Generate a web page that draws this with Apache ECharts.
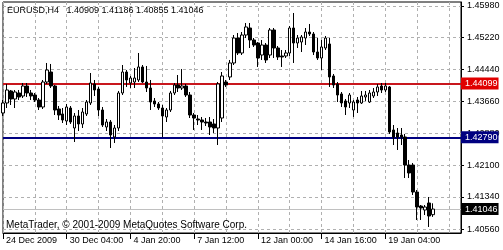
<!DOCTYPE html>
<html><head><meta charset="utf-8">
<script src="https://cdn.jsdelivr.net/npm/echarts@6/dist/echarts.min.js"></script>
<style>html,body{margin:0;padding:0;background:#fff}#c{width:503px;height:250px}</style>
</head><body><div id="c"></div>
<script>
const symbolTitle = 'EURUSD,H4';
const lastQuote = ['1.40909', '1.41186', '1.40855', '1.41046'];
const copyrightText = 'MetaTrader, \u00a9 2001-2009 MetaQuotes Software Corp.';
const xTickLabels = ['24 Dec 2009', '30 Dec 04:00', '4 Jan 20:00', '7 Jan 12:00', '12 Jan 00:00', '14 Jan 16:00', '19 Jan 04:00'];
const yTickValues = [1.40560, 1.41340, 1.42100, 1.42880, 1.43660, 1.44440, 1.45220, 1.45980];
const resistanceLevel = 1.44099;
const supportLevel = 1.42790;
const bidLevel = 1.41046;

const openP = [1.43380,1.43623,1.43915,1.43720,1.43866,1.43793,1.44036,1.43866,1.43817,1.43696,
1.43526,1.44133,1.44376,1.44036,1.43477,1.43356,1.43186,1.43501,1.43015,1.43307,
1.43113,1.43356,1.43623,1.44085,1.43963,1.43453,1.43040,1.43161,1.42797,1.43015,
1.43866,1.44376,1.44109,1.44133,1.44182,1.44498,1.44133,1.43987,1.43672,1.43599,
1.43501,1.43283,1.43453,1.43866,1.44060,1.43987,1.44036,1.43817,1.43331,1.43234,
1.43210,1.43161,1.43161,1.43113,1.43015,1.43258,1.44133,1.44255,1.44595,1.45202,
1.44838,1.45275,1.45445,1.45154,1.45081,1.44789,1.45032,1.44789,1.45397,1.44959,
1.44765,1.44765,1.44838,1.45445,1.45081,1.45105,1.45202,1.45348,1.45300,1.44862,
1.44716,1.44959,1.45057,1.44279,1.44085,1.43842,1.43672,1.43623,1.43453,1.43696,
1.43623,1.43769,1.43647,1.43793,1.43890,1.44036,1.43939,1.44012,1.42967,1.42894,
1.42845,1.42797,1.42116,1.42116,1.41460,1.41120,1.41023,1.41193,1.40909];
const closeP = [1.43623,1.43939,1.43720,1.43890,1.43769,1.44036,1.43866,1.43793,1.43696,1.43526,
1.44133,1.44425,1.44036,1.43453,1.43331,1.43210,1.43526,1.43161,1.43307,1.43113,
1.43404,1.43647,1.44109,1.43939,1.43453,1.43088,1.43161,1.42845,1.43015,1.43866,
1.44376,1.44182,1.44230,1.44230,1.44498,1.44133,1.43987,1.43647,1.43599,1.43501,
1.43307,1.43453,1.43866,1.44060,1.43987,1.44036,1.43817,1.43331,1.43258,1.43210,
1.43161,1.43137,1.43040,1.43015,1.44085,1.44279,1.44060,1.44595,1.45202,1.44838,
1.45275,1.45470,1.45154,1.45032,1.44716,1.45032,1.44668,1.45397,1.44959,1.44741,
1.44741,1.44838,1.45445,1.45081,1.45202,1.45227,1.45348,1.45300,1.44862,1.44716,
1.44984,1.45202,1.44255,1.44060,1.43817,1.43623,1.43526,1.43817,1.43647,1.43623,
1.43793,1.43817,1.43866,1.43890,1.44012,1.43939,1.44036,1.42918,1.42797,1.42797,
1.42797,1.42116,1.41922,1.41460,1.41096,1.41071,1.41096,1.40877,1.41046];
const lowP = [1.43307,1.43501,1.43574,1.43501,1.43696,1.43744,1.43769,1.43696,1.43647,1.43453,
1.43477,1.44085,1.43987,1.43331,1.43210,1.43137,1.43088,1.43113,1.42675,1.42943,
1.43015,1.43307,1.43574,1.43793,1.43307,1.43040,1.42943,1.42529,1.42651,1.42943,
1.43817,1.44012,1.43987,1.43987,1.44133,1.44109,1.43890,1.43453,1.43526,1.43453,
1.42797,1.43161,1.43404,1.43817,1.43890,1.43939,1.43769,1.43258,1.42967,1.43088,
1.42967,1.43064,1.42845,1.42894,1.42602,1.43161,1.44012,1.44182,1.44546,1.44789,
1.44789,1.45202,1.44959,1.44984,1.44498,1.44668,1.44595,1.44716,1.44716,1.44668,
1.44498,1.44716,1.44765,1.44595,1.44959,1.44862,1.45032,1.45251,1.44789,1.44668,
1.44425,1.44911,1.44012,1.43987,1.43647,1.43526,1.43331,1.43501,1.43283,1.43380,
1.43599,1.43672,1.43623,1.43744,1.43793,1.43866,1.43890,1.42870,1.42602,1.42481,
1.42602,1.41800,1.41800,1.41387,1.40780,1.40780,1.40901,1.40610,1.40855];
const highP = [1.43696,1.44085,1.43939,1.43939,1.43939,1.44109,1.44109,1.43939,1.43866,1.43744,
1.44182,1.44595,1.44571,1.44060,1.43550,1.43501,1.43599,1.43550,1.43380,1.43453,
1.43501,1.43696,1.44352,1.44182,1.44012,1.43526,1.43234,1.43210,1.43088,1.43915,
1.44546,1.44425,1.44279,1.44473,1.44838,1.44546,1.44522,1.44182,1.43744,1.43647,
1.43574,1.43501,1.43915,1.44109,1.44303,1.44449,1.44085,1.43890,1.43380,1.43331,
1.43283,1.43258,1.43283,1.43234,1.44133,1.44376,1.44182,1.44668,1.45275,1.45324,
1.45348,1.45567,1.45567,1.45202,1.45105,1.45154,1.45081,1.45445,1.45445,1.45008,
1.44911,1.44911,1.45494,1.45810,1.45275,1.45275,1.45445,1.45543,1.45348,1.45202,
1.45154,1.45251,1.45202,1.44328,1.44133,1.43890,1.43720,1.43866,1.43696,1.43769,
1.43915,1.43915,1.43939,1.43987,1.44085,1.44109,1.44109,1.44036,1.43088,1.43015,
1.43015,1.42870,1.42238,1.42165,1.41509,1.41144,1.41144,1.41339,1.41186];

const emptySlots = 7;
const categories = [];
for (let i = 0; i < openP.length + emptySlots; i++) categories.push(String(i));
const candleData = categories.map((c, i) => i < openP.length ? [openP[i], closeP[i], lowP[i], highP[i]] : '-');

const FONT = '"Liberation Sans", Arial, sans-serif';
const chart = echarts.init(document.getElementById('c'), null, {renderer: 'canvas'});
const tag = (bg, level) => ({
  show: true, position: 'end', distance: 0,
  formatter: () => level.toFixed(5),
  backgroundColor: bg, color: '#fff', fontFamily: FONT, fontSize: 9,
  padding: [2, 1, 1, 4], align: 'left', verticalAlign: 'middle'
});
chart.setOption({
  animation: false,
  backgroundColor: '#fff',
  grid: {left: 3, right: 42, top: 2, bottom: 17, show: true, borderColor: '#000', borderWidth: 1, backgroundColor: '#fff'},
  xAxis: {
    type: 'category', data: categories, boundaryGap: false,
    axisLine: {show: true, lineStyle: {color: '#000'}},
    axisTick: {show: true, interval: (i) => i % 16 === 0, length: 6, lineStyle: {color: '#000'}},
    axisLabel: {
      interval: (i) => i % 16 === 0,
      formatter: (v, i) => xTickLabels[i / 16] || '',
      align: 'left', color: '#000', fontFamily: FONT, fontSize: 9, margin: 3,
      padding: [0, 0, 0, 3], showMinLabel: true, showMaxLabel: false
    },
    splitLine: {show: true, interval: (i) => i % 8 === 0, lineStyle: {color: '#b0b0b0', type: [3, 3], width: 1}}
  },
  yAxis: {
    type: 'value', position: 'right', min: 1.40464, max: 1.46077, scale: true,
    axisLine: {show: true, lineStyle: {color: '#000'}},
    axisTick: {show: true, customValues: yTickValues, length: 3, lineStyle: {color: '#000'}},
    axisLabel: {customValues: yTickValues, formatter: v => Number(v).toFixed(5), color: '#000', fontFamily: FONT, fontSize: 9, margin: 6},
    splitLine: {show: false}
  },
  graphic: [
    {type: 'text', left: 7, top: 6, z: 100, style: {text: symbolTitle + '\u00a0\u00a0\u00a0' + lastQuote.join(' '), font: '9px ' + FONT, fill: '#000'}},
    {type: 'text', left: 6, top: 220, z: 100, style: {text: copyrightText, font: '10px ' + FONT, fill: '#000'}}
  ],
  series: [
    {
      type: 'line', data: [], silent: true, z: 1,
      markLine: {
        silent: true, symbol: 'none', animation: false, precision: 5,
        label: {show: false},
        lineStyle: {color: '#b0b0b0', type: [3, 3], width: 1},
        data: yTickValues.map(v => ({yAxis: v}))
      }
    },
    {
      type: 'candlestick', data: candleData, barWidth: 3, z: 5, silent: true,
      itemStyle: {color: '#fff', color0: '#000', borderColor: '#000', borderColor0: '#000', borderWidth: 1},
      markLine: {
        silent: true, symbol: 'none', animation: false, precision: 5,
        data: [
          {yAxis: bidLevel, lineStyle: {color: '#c0c0c0', width: 1, type: 'solid'}, label: tag('#000', bidLevel)},
          {yAxis: supportLevel, lineStyle: {color: '#000080', width: 2, type: 'solid'}, label: tag('#000080', supportLevel)},
          {yAxis: resistanceLevel, lineStyle: {color: '#c8161d', width: 2, type: 'solid'}, label: tag('#e00000', resistanceLevel)}
        ]
      }
    }
  ]
});
</script></body></html>
